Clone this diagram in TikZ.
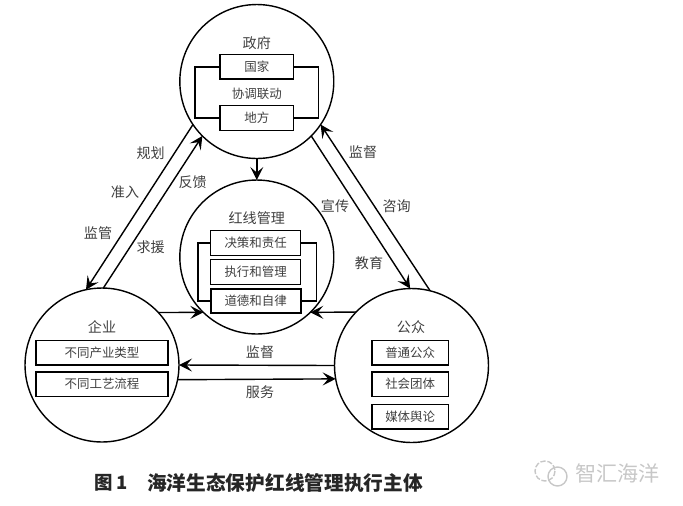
\documentclass[tikz,border=0pt]{standalone}
\usepackage{fontspec}
\setmainfont{Noto Sans CJK SC}
\usepackage{tikz}
\usetikzlibrary{arrows.meta, positioning}

\begin{document}
\begin{tikzpicture}[
    x=0.02cm, y=-0.02cm,
    node distance=0.12cm and 0.12cm,
    hub/.style={circle, draw, line width=0.8pt, minimum size=3.08cm, inner sep=0pt, outer sep=0pt},
    item/.style={rectangle, draw, line width=0.8pt, minimum height=0.49cm, inner sep=0pt, outer sep=0pt, font=\fontsize{7.1}{8}\selectfont, text=black!75},
    tag/.style={font=\fontsize{8}{9}\selectfont, text=black!75, inner sep=0pt},
    bracket/.style={line width=0.8pt},
    arrow/.style={line width=0.8pt, ->, >={Stealth[length=2.6mm, width=2.6mm, inset=1.1mm]}}
]
    \useasboundingbox (0,0) rectangle (683,505);

    \node[hub] (gov) at (256.8,81.5) {};
    \node[hub] (red) at (256.8,257) {};
    \node[hub] (ent) at (102,365) {};
    \node[hub] (pub) at (411.5,365.5) {};

    % government
    \node[tag] (govname) at (256.8,43) {政府};
    \node[item, minimum width=1.48cm] (state) at (256.8,66.8) {国家};
    \node[tag, font=\fontsize{7.1}{8}\selectfont] (joint) at (256.8,94) {协调联动};
    \node[item, minimum width=1.48cm] (local) at (256.8,118) {地方};
    \draw[bracket] (state.west) -- ++(-24.7,0) |- (local.west);
    \draw[bracket] (state.east) -- ++(25,0) |- (local.east);

    % red line
    \node[tag] (redname) at (256.8,218) {红线管理};
    \node[item, minimum width=1.8cm] (duty) at (255.7,243) {决策和责任};
    \node[item, minimum width=1.8cm, below=of duty, yshift=0.03cm] (exec) {执行和管理};
    \node[item, minimum width=1.8cm, below=of exec, yshift=0.03cm, line width=1.1pt] (ethic) {道德和自律};
    \draw[bracket] (duty.west) -- ++(-12.7,0) |- (ethic.west);
    \draw[bracket] (duty.east) -- ++(16,0) |- (ethic.east);

    % enterprise
    \node[tag] (entname) at (102,327) {企业};
    \node[item, minimum width=2.64cm] (trade) at (102,352.7) {不同产业类型};
    \node[item, minimum width=2.64cm, below=0.14cm of trade] (flow) {不同工艺流程};

    % public
    \node[tag] (pubname) at (411,327) {公众};
    \node[item, minimum width=1.53cm] (people) at (410.2,352.7) {普通公众};
    \node[item, minimum width=1.53cm, below=0.14cm of people] (group) {社会团体};
    \node[item, minimum width=1.53cm, below=0.16cm of group] (media) {媒体舆论};

    \draw[arrow] (gov) -- (red);
    \draw[arrow] (ent.43.5) -- (red.226);
    \draw[arrow] (pub.136) -- (red.-46);
    \draw[arrow] (pub.180.3) -- (ent.-0.7);
    \draw[arrow] (ent.-11) -- (pub.190.6);
    \draw[arrow] (gov.214.7) -- (ent.102.4);
    \draw[arrow] (ent.89) -- (gov.225.8);
    \draw[arrow] (gov.-45.6) -- (pub.91);
    \draw[arrow] (pub.76.7) -- (gov.-34.5);

    \node[tag] (plan) at (150.7,153) {规划};
    \node[tag] (permit) at (125,191.7) {准入};
    \node[tag] (watch) at (98,233) {监管};
    \node[tag] (reply) at (192.7,182) {反馈};
    \node[tag] (help) at (150.7,247) {求援};
    \node[tag] (super) at (363,152) {监督};
    \node[tag] (ask) at (396.7,206) {咨询};
    \node[tag] (promo) at (335,206) {宣传};
    \node[tag] (teach) at (369,262.7) {教育};
    \node[tag] (check) at (260,351.7) {监督};
    \node[tag] (serve) at (260,391.7) {服务};

    % caption and mark
    \node[inner sep=0pt, font=\fontsize{10.5}{12}\selectfont\bfseries, text=black!85] (figno) at (111,483) {图 1};
    \node[inner sep=0pt, font=\fontsize{11.2}{12}\selectfont\bfseries, text=black!85] (title) at (285,483) {海洋生态保护红线管理执行主体};
    \node[inner sep=0pt, font=\fontsize{12}{13}\selectfont, text=black!22] (mark) at (617.5,473) {智汇海洋};
    \draw[black!22, line width=0.8pt, dash pattern=on 3pt off 1pt] (545,471) circle [radius=10];
    \draw[black!22, line width=0.8pt] (557.5,476.5) circle [radius=9.5];
\end{tikzpicture}
\end{document}
